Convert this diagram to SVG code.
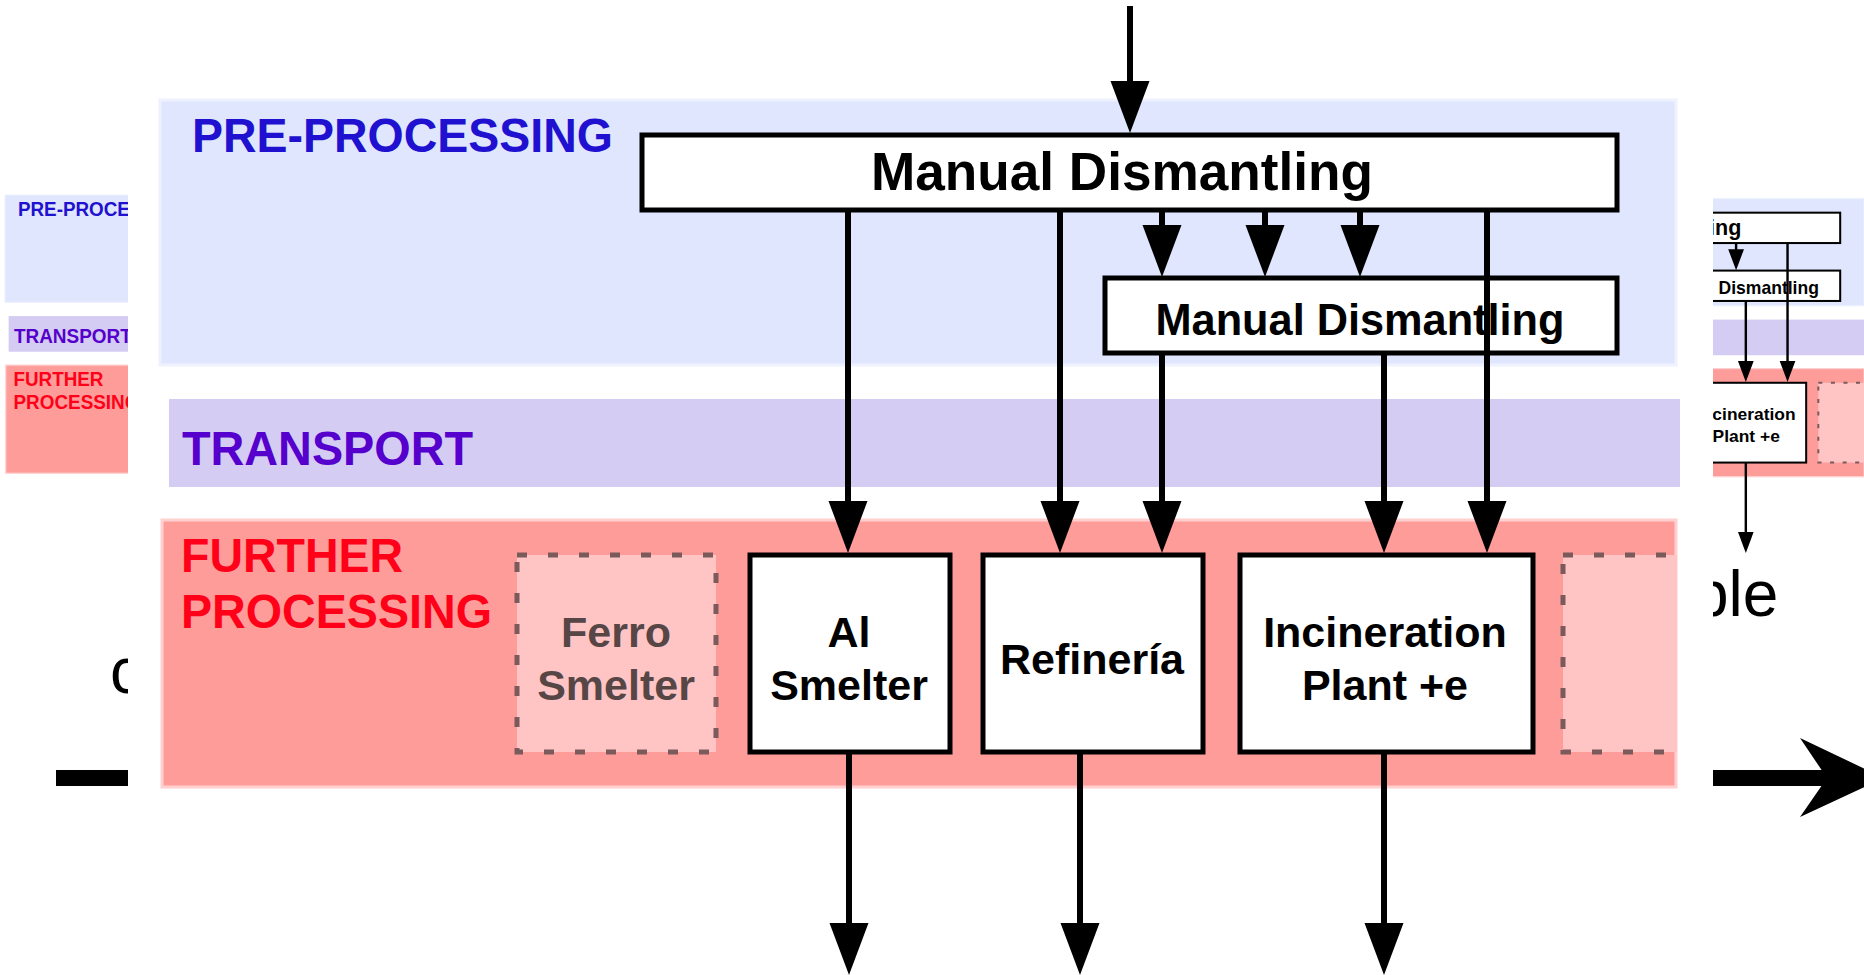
<svg xmlns="http://www.w3.org/2000/svg" width="1864" height="975" viewBox="0 0 1864 975">
<defs>
<style>
.lbl{font-family:"Liberation Sans",Arial,sans-serif;font-weight:bold}
.box{fill:#fff;stroke:#000;stroke-width:5}
.ghost{fill:#ffc4c4;stroke:#7a5a5a;stroke-width:5;stroke-dasharray:10 21}
.node{font-family:"Liberation Sans",Arial,sans-serif;font-weight:bold;font-size:43px;text-anchor:middle;fill:#000}
.edge{stroke:#000;stroke-width:6;fill:none;marker-end:url(#ah)}
.bg{font-family:"Liberation Sans",Arial,sans-serif;font-size:64px;fill:#000}
</style>
<marker id="ah" markerUnits="userSpaceOnUse" markerWidth="56" markerHeight="42" viewBox="0 -21 56 42" refX="2" refY="0" orient="auto">
<path d="M0,-19.5 L52,0 L0,19.5 z" fill="#000"/>
</marker>
<clipPath id="clipMain"><rect x="128" y="0" width="1585" height="975"/></clipPath>
<clipPath id="clipBand"><rect x="160" y="500" width="1517" height="300"/></clipPath>
<clipPath id="clipLeft"><rect x="0" y="185" width="128" height="300"/></clipPath>
<clipPath id="clipRight"><rect x="1713" y="150" width="151" height="410"/></clipPath>
</defs>

<rect x="0" y="0" width="1864" height="975" fill="#fff"/>

<g id="background-slide">
<text class="bg" x="110" y="693">c</text>
<text class="bg" x="1693" y="616">ple</text>
<rect x="56" y="770" width="1775" height="16" fill="#000"/>
<path d="M1800,738 L1884,778 L1800,817 L1827,778 z" fill="#000"/>
</g>

<g id="diagram" clip-path="url(#clipMain)">
<rect x="128" y="0" width="1585" height="975" fill="#fff"/>
<g id="band-pre">
<rect x="160" y="100" width="1516" height="265" fill="#dfe6fd" stroke="#eef2fe" stroke-width="3"/>
<text class="lbl" x="192" y="152" font-size="49" textLength="421" lengthAdjust="spacingAndGlyphs" fill="#2010d0">PRE-PROCESSING</text>
</g>
<g id="band-transport">
<rect x="169" y="399" width="1511" height="88" fill="#d4ccf2"/>
<text class="lbl" x="182" y="465" font-size="48" textLength="291" lengthAdjust="spacingAndGlyphs" fill="#5500cc">TRANSPORT</text>
</g>
<g id="band-further">
<rect x="162" y="520" width="1514" height="267" fill="#fe9c9a" stroke="#ffd0d0" stroke-width="3"/>
<text class="lbl" x="181" y="572" font-size="48" textLength="222" lengthAdjust="spacingAndGlyphs" fill="#ff0018">FURTHER</text>
<text class="lbl" x="181" y="628" font-size="48" textLength="311" lengthAdjust="spacingAndGlyphs" fill="#ff0018">PROCESSING</text>
</g>

<g id="manual-dismantling-1">
<rect class="box" x="642" y="135" width="975" height="75"/>
<text class="lbl" x="1122" y="190" font-size="53" text-anchor="middle" textLength="502" lengthAdjust="spacingAndGlyphs" fill="#000">Manual Dismantling</text>
</g>
<g id="manual-dismantling-2">
<rect class="box" x="1105" y="278" width="512" height="75"/>
<text class="lbl" x="1360" y="335" font-size="44" text-anchor="middle" textLength="409" lengthAdjust="spacingAndGlyphs" fill="#000">Manual Dismantling</text>
</g>

<g id="ferro-smelter">
<rect class="ghost" x="517" y="555" width="199" height="197"/>
<text class="node" x="616" y="647" style="fill:#564646">Ferro</text>
<text class="node" x="616" y="700" style="fill:#564646">Smelter</text>
</g>
<g id="al-smelter">
<rect class="box" x="750" y="555" width="200" height="197"/>
<text class="node" x="849" y="647">Al</text>
<text class="node" x="849" y="700">Smelter</text>
</g>
<g id="refineria">
<rect class="box" x="983" y="555" width="220" height="197"/>
<text class="node" x="1092" y="674">Refinería</text>
</g>
<g id="incineration-plant">
<rect class="box" x="1240" y="555" width="293" height="197"/>
<text class="node" x="1385" y="647">Incineration</text>
<text class="node" x="1385" y="700">Plant +e</text>
</g>
<g id="unnamed-plant" clip-path="url(#clipBand)">
<rect class="ghost" x="1563" y="555" width="200" height="197"/>
</g>

<g id="connectors">
<line class="edge" x1="1130" y1="6" x2="1130" y2="83"/>
<line class="edge" x1="848" y1="210" x2="848" y2="503"/>
<line class="edge" x1="1060" y1="210" x2="1060" y2="503"/>
<line class="edge" x1="1162" y1="210" x2="1162" y2="227"/>
<line class="edge" x1="1265" y1="210" x2="1265" y2="227"/>
<line class="edge" x1="1360" y1="210" x2="1360" y2="227"/>
<line class="edge" x1="1162" y1="353" x2="1162" y2="503"/>
<line class="edge" x1="1384" y1="353" x2="1384" y2="503"/>
<line class="edge" x1="1487" y1="210" x2="1487" y2="503"/>
<line class="edge" x1="849" y1="752" x2="849" y2="925"/>
<line class="edge" x1="1080" y1="752" x2="1080" y2="925"/>
<line class="edge" x1="1384" y1="752" x2="1384" y2="925"/>
</g>
</g>

<g id="left-copy" clip-path="url(#clipLeft)">
<use href="#diagram" transform="translate(-59.8 154.5) scale(0.405)"/>
</g>
<g id="right-copy" clip-path="url(#clipRight)">
<use href="#diagram" transform="translate(1185.3 158) scale(0.405)"/>
</g>
</svg>
